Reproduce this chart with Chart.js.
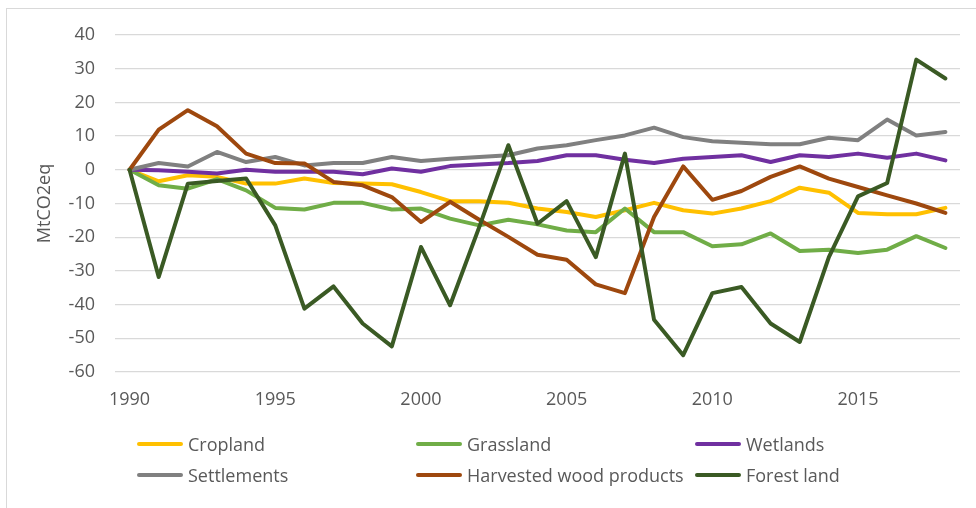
<!DOCTYPE html>
<html>
<head>
<meta charset="utf-8">
<script src="https://cdn.jsdelivr.net/npm/chart.js@4/dist/chart.umd.min.js"></script>
<style>
    html, body { margin: 0; padding: 0; background: #fff; }
    #wrap { position: relative; width: 976px; height: 508px; overflow: hidden; }
    #frame { position: absolute; left: 6px; top: 8px; width: 1100px; height: 700px; border: 1px solid #d9d9d9; box-sizing: border-box; }
    #grafico { position: absolute; left: 0; top: 0; }
    #leyenda { position: absolute; left: 137px; top: 428px; display: grid; grid-template-columns: 279px 279px 279px; grid-auto-rows: 31px; font-family: "Open Sans", sans-serif; font-size: 18px; color: #595959; }
    .item { display: flex; align-items: center; white-space: nowrap; }
    .marca { width: 46px; height: 4px; border-radius: 2px; margin-right: 5px; }
</style>
</head>
<body>
<div id="wrap">
    <div id="frame"></div>
    <canvas id="grafico" width="976" height="508"></canvas>
    <div id="leyenda"></div>
</div>
<script>
// Datos (MtCO2eq)
const years = ['1990', '1991', '1992', '1993', '1994', '1995', '1996', '1997', '1998', '1999',
    '2000', '2001', '2002', '2003', '2004', '2005', '2006', '2007', '2008', '2009',
    '2010', '2011', '2012', '2013', '2014', '2015', '2016', '2017', '2018'];

const cropland = [0, -3.4, -1.6, -2.1, -4.1, -4.1, -2.6, -3.9, -4.1, -4.3, -6.6, -9.3, -9.3, -9.8, -11.5,
    -12.5, -14, -12, -9.8, -12, -13, -11.5, -9.3, -5.3, -6.8, -12.8, -13.2, -13.2, -11.3];
const grassland = [0, -4.6, -5.6, -2.8, -6.1, -11.3, -11.8, -9.8, -9.8, -11.8, -11.5, -14.5, -16.5, -14.8, -16.2,
    -18, -18.5, -11.5, -18.5, -18.5, -22.7, -22.1, -18.9, -24.1, -23.7, -24.7, -23.7, -19.7, -23.2];
const wetlands = [0, -0.1, -0.6, -1.1, 0, -0.6, -0.6, -0.6, -1.3, 0.4, -0.6, 1.1, 1.6, 2.0, 2.6,
    4.3, 4.3, 3.0, 2.0, 3.3, 3.8, 4.3, 2.3, 4.3, 3.8, 4.8, 3.6, 4.8, 2.8];
const settlements = [0, 2.0, 1.0, 5.3, 2.3, 3.8, 1.3, 2.0, 2.0, 3.8, 2.6, 3.3, 3.8, 4.3, 6.3,
    7.3, 8.8, 10.2, 12.5, 9.7, 8.5, 8.0, 7.6, 7.6, 9.5, 8.8, 14.9, 10.2, 11.2];
const harvestedWood = [0, 11.9, 17.7, 12.9, 4.8, 2.0, 1.9, -3.6, -4.6, -8.1, -15.5, -9.5, -14.8, -19.9, -25.2,
    -26.7, -34, -36.6, -14, 1.0, -8.9, -6.3, -2.1, 1.0, -2.6, -5.1, -7.6, -10, -12.8];
const forestLand = [0, -31.8, -4.1, -3.3, -2.6, -16.5, -41.2, -34.6, -45.6, -52.4, -22.9, -40.2, -17, 7.3, -16,
    -9.3, -25.9, 4.8, -44.5, -55, -36.6, -34.8, -45.6, -51.1, -25.9, -7.9, -3.9, 32.7, 27.1];

const seriesNames = ['Cropland', 'Grassland', 'Wetlands', 'Settlements', 'Harvested wood products', 'Forest land'];
const seriesData = [cropland, grassland, wetlands, settlements, harvestedWood, forestLand];
const seriesColors = ['#FFC000', '#70AD47', '#7030A0', '#808080', '#9E480E', '#3A5A24'];

const fuente = '"Open Sans", sans-serif';
const gris = '#595959';

const datasets = seriesNames.map((nombre, i) => ({
    label: nombre,
    data: seriesData[i],
    borderColor: seriesColors[i],
    backgroundColor: seriesColors[i],
    borderWidth: 4,
    borderCapStyle: 'round',
    borderJoinStyle: 'round',
    pointRadius: 0,
    tension: 0,
    fill: false,
    order: seriesNames.length - i // Excel: la última serie queda encima
}));

new Chart(document.getElementById('grafico').getContext('2d'), {
    type: 'line',
    data: { labels: years, datasets: datasets },
    options: {
        responsive: false,
        animation: false,
        layout: { padding: { top: 35, right: 16, bottom: 96, left: 0 } },
        plugins: {
            legend: { display: false },
            tooltip: { enabled: false }
        },
        scales: {
            x: {
                offset: true,
                grid: { display: false },
                border: { display: false },
                afterFit: scale => { scale.height = 40; },
                ticks: {
                    autoSkip: false,
                    maxRotation: 0,
                    padding: 9,
                    color: gris,
                    font: { family: fuente, size: 18 },
                    callback: function(val, idx) {
                        const y = this.getLabelForValue(val);
                        return Number(y) % 5 === 0 ? y : '';
                    }
                }
            },
            y: {
                min: -60,
                max: 40,
                afterFit: scale => { scale.width = 115; },
                grid: { color: '#d9d9d9', lineWidth: 1.3, drawTicks: false },
                border: { display: false },
                ticks: {
                    stepSize: 10,
                    padding: 20,
                    color: gris,
                    font: { family: fuente, size: 18 }
                },
                title: {
                    display: true,
                    text: 'MtCO2eq',
                    color: gris,
                    font: { family: fuente, size: 18 },
                    padding: { top: 34, bottom: 0 }
                }
            }
        }
    }
});

// Leyenda en 3 columnas como en Excel
const leyenda = document.getElementById('leyenda');
seriesNames.forEach((nombre, i) => {
    const item = document.createElement('div');
    item.className = 'item';
    item.innerHTML = `<span class="marca" style="background:${seriesColors[i]}"></span><span>${nombre}</span>`;
    leyenda.appendChild(item);
});
</script>
</body>
</html>
